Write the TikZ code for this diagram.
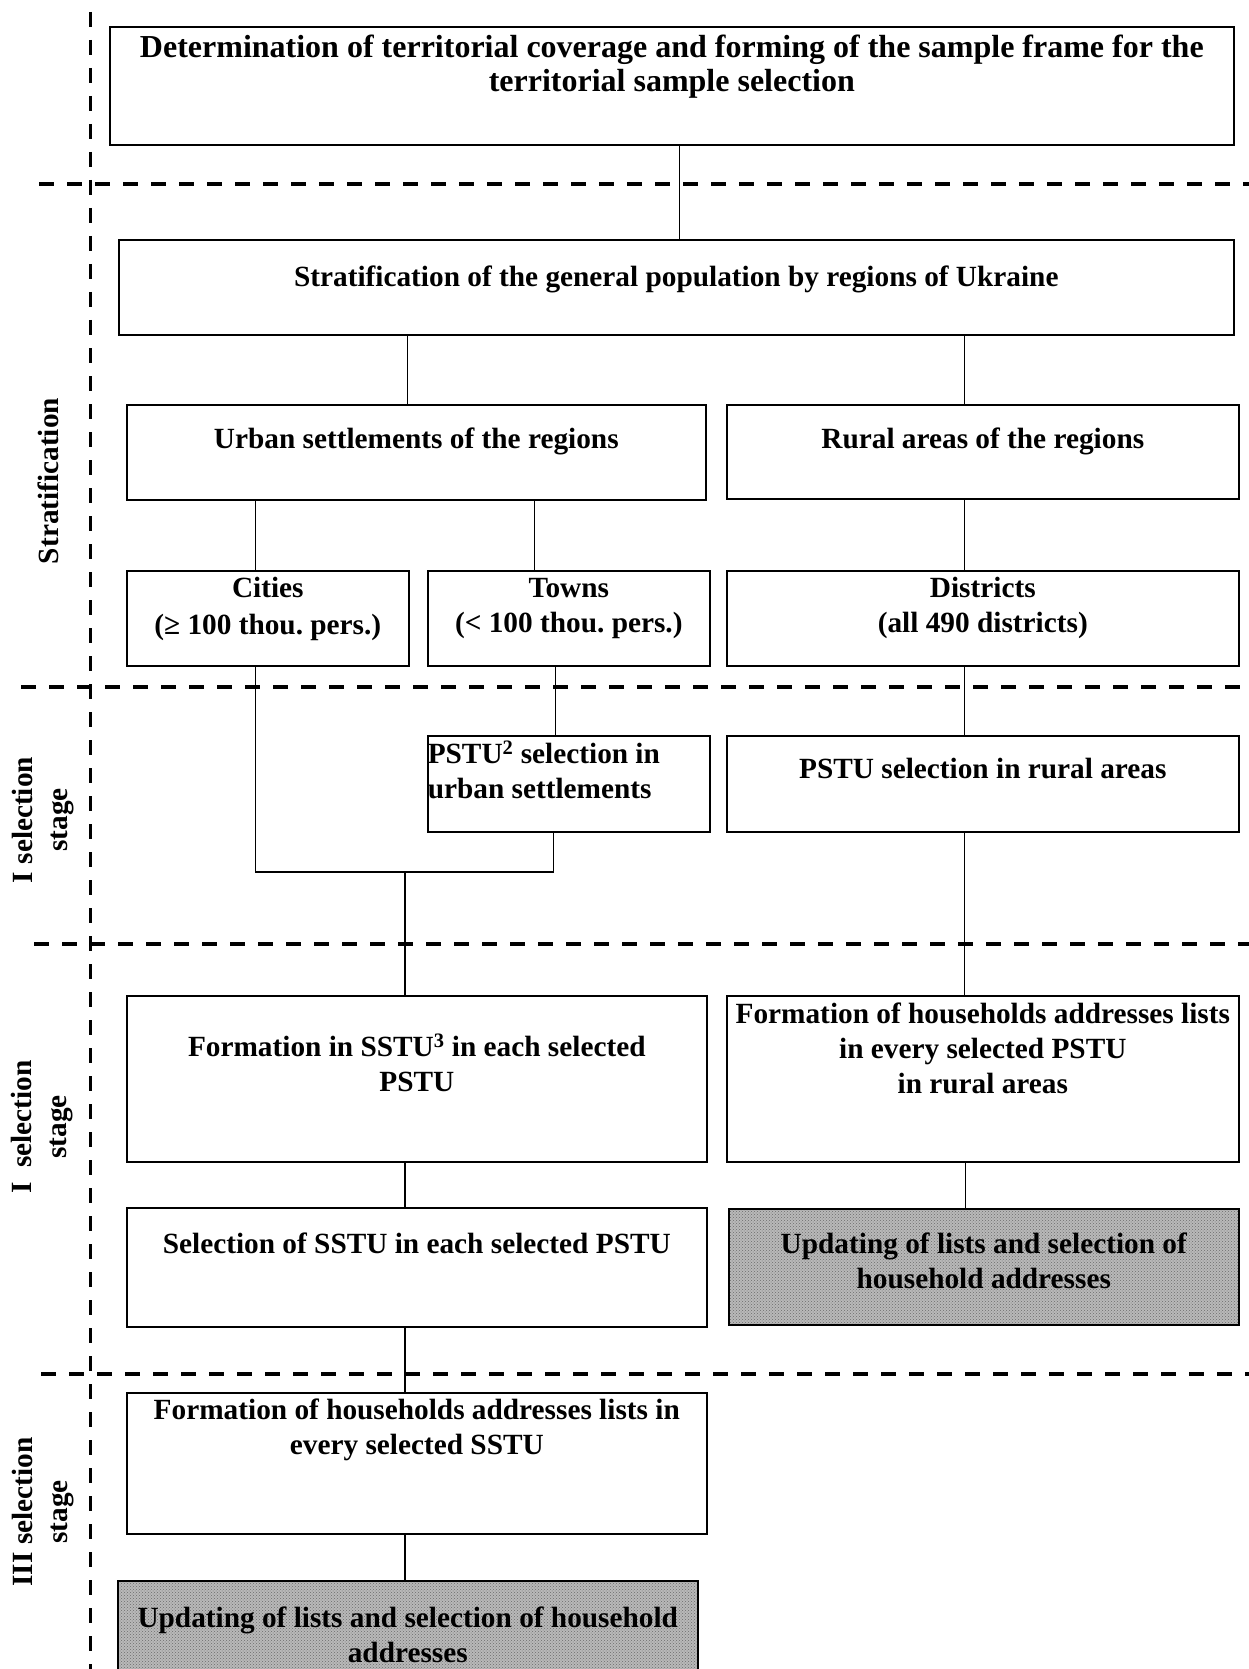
\documentclass[tikz,border=0pt]{standalone}
\usepackage{fontspec}
\setmainfont{Liberation Serif}
\usetikzlibrary{positioning, patterns}

\begin{document}
\begin{tikzpicture}[x=1pt, y=-1pt,
    every node/.style={font=\bfseries\frenchspacing\fontsize{29.3}{35}\selectfont},
    box/.style={draw, line width=1.6pt, inner sep=0pt, align=flush center, anchor=north west},
    graybox/.style={box, preaction={fill=gray!55}, pattern=crosshatch dots, pattern color=gray!85!black},
    stage/.style={rotate=90, align=flush center},
    sep/.style={line width=3.5pt, dash pattern=on 15pt off 13pt},
    link/.style={line width=1.3pt}]
    \useasboundingbox (0,0) rectangle (1249,1669);
    \clip (0,0) rectangle (1249,1669);

    \draw[sep] (90.5,12) -- (90.5,1669);
    \draw[sep] (39,184) -- (1249,184);
    \draw[sep] (21,687) -- (1249,687);
    \draw[sep] (34,944) -- (1249,944);
    \draw[sep] (41,1374) -- (1249,1374);

    \node[stage] (stratlabel) at (48,481) {Stratification};
    \node[stage] (stageone) at (43,820) {I selection\\stage};
    \node[stage] (stagetwo) at (42,1127) {I\ \ selection\\stage};
    \node[stage] (stagethree) at (43,1512) {III selection\\stage};

    \node[box, font=\bfseries\frenchspacing\fontsize{32}{34}\selectfont, text width=1124pt, text height=31pt, text depth=87pt] (frame) at (109,26)
        {Determination of territorial coverage and forming of the sample frame for the\\territorial sample selection};
    \node[box, text width=1115pt, text height=47pt, text depth=48pt] (strat) at (118,239)
        {Stratification of the general population by regions of Ukraine};
    \node[box, text width=579pt, text height=44pt, text depth=51pt] (urban) at (126,404)
        {Urban settlements of the regions};
    \node[box, text width=512pt, text height=44pt, text depth=50pt] (rural) at (726,404)
        {Rural areas of the regions};
    \node[box, text width=282pt, text height=27pt, text depth=68pt] (cities) at (126,570)
        {Cities\\[2pt](≥ 100 thou. pers.)};
    \node[box, text width=282pt, text height=27pt, text depth=68pt] (towns) at (427,570)
        {Towns\\(< 100 thou. pers.)};
    \node[box, text width=512pt, text height=27pt, text depth=68pt] (districts) at (726,570)
        {Districts\\(all 490 districts)};
    \node[box, align=flush left, text width=282pt, text height=28pt, text depth=68pt] (pstuurban) at (427,735)
        {PSTU\textsuperscript{2} selection in\\urban settlements};
    \node[box, text width=512pt, text height=43pt, text depth=53pt] (psturural) at (726,735)
        {PSTU selection in rural areas};
    \node[box, text width=580pt, text height=61pt, text depth=105pt] (formsstu) at (126,995)
        {Formation in SSTU\textsuperscript{3} in each selected\\PSTU};
    \node[box, text width=512pt, text height=28pt, text depth=138pt] (formrural) at (726,995)
        {Formation of households addresses lists\\in every selected PSTU\\in rural areas};
    \node[box, text width=580pt, text height=46pt, text depth=73pt] (selsstu) at (126,1207)
        {Selection of SSTU in each selected PSTU};
    \node[graybox, text width=510pt, text height=45pt, text depth=71pt] (updrural) at (728,1208)
        {Updating of lists and selection of\\household addresses};
    \node[box, text width=580pt, text height=27pt, text depth=114pt] (formlists) at (126,1392)
        {Formation of households addresses lists in\\every selected SSTU};
    \node[graybox, text width=580pt, text height=47pt, text depth=83pt] (updurban) at (117,1580)
        {Updating of lists and selection of household\\addresses};

    \coordinate (join) at (405,872);
    \draw[link] ([xshift=8pt]frame.south) -- ([xshift=8pt]frame.south |- strat.north);
    \draw[link] ([xshift=-8.5pt]urban.north) -- ([xshift=-8.5pt]urban.north |- strat.south);
    \draw[link] ([xshift=-18pt]rural.north) -- ([xshift=-18pt]rural.north |- strat.south);
    \draw[link] ([xshift=-12pt]cities.north) -- ([xshift=-12pt]cities.north |- urban.south);
    \draw[link] ([xshift=-34pt]towns.north) -- ([xshift=-34pt]towns.north |- urban.south);
    \draw[link] ([xshift=-18pt]districts.north) -- ([xshift=-18pt]districts.north |- rural.south);
    \draw[link] ([xshift=-13pt]pstuurban.north) -- ([xshift=-13pt]pstuurban.north |- towns.south);
    \draw[link] ([xshift=-12pt]cities.south) |- (join) -| ([xshift=-15pt]pstuurban.south);
    \draw[link] (join) -- (join |- formsstu.north);
    \draw[link] ([xshift=-18pt]psturural.north) -- ([xshift=-18pt]psturural.north |- districts.south);
    \draw[link] ([xshift=-18pt]formrural.north) -- ([xshift=-18pt]formrural.north |- psturural.south);
    \draw[link] ([xshift=-18pt]updrural.north) -- ([xshift=-18pt]updrural.north |- formrural.south);
    \draw[link] (join |- formsstu.south) -- (join |- selsstu.north);
    \draw[link] (join |- selsstu.south) -- (join |- formlists.north);
    \draw[link] (join |- formlists.south) -- (join |- updurban.north);
\end{tikzpicture}
\end{document}
